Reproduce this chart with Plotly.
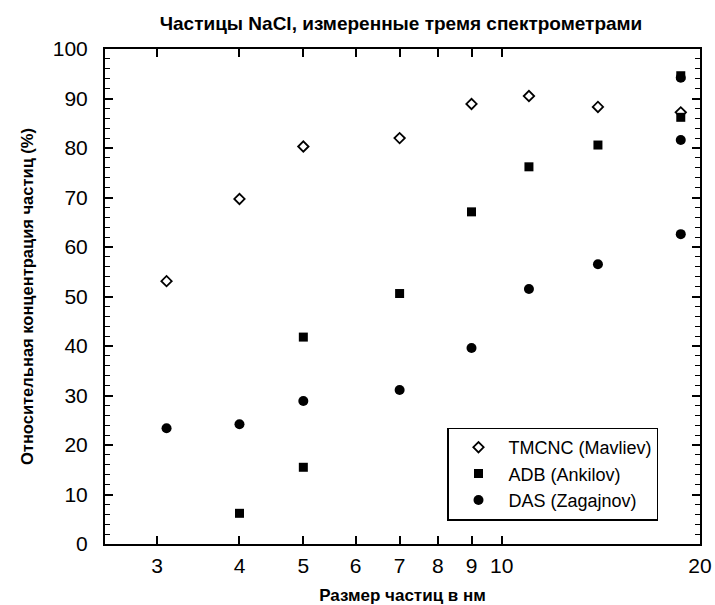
import plotly.graph_objects as go
import math

# Data
tmcnc_x = [3.1, 4.0, 5.0, 7.0, 9.0, 11.0, 14.0, 18.7]
tmcnc_y = [53.1, 69.7, 80.3, 82.0, 88.9, 90.5, 88.3, 87.2]

adb_x = [4.0, 5.0, 5.0, 7.0, 9.0, 11.0, 14.0, 18.7, 18.7]
adb_y = [6.2, 15.5, 41.8, 50.6, 67.1, 76.2, 80.6, 94.6, 86.2]

das_x = [3.1, 4.0, 5.0, 7.0, 9.0, 11.0, 14.0, 18.7, 18.7, 18.7]
das_y = [23.4, 24.2, 28.9, 31.1, 39.6, 51.5, 56.5, 94.2, 81.6, 62.6]

x_ticks = [3, 4, 5, 6, 7, 8, 9, 10, 20]
x_tick_text = ["3", "4", "5", "6", "7", "8", "9", "10", "20"]

title_text = "Частицы NaCl, измеренные тремя спектрометрами"
x_title = "Размер частиц в нм"
y_title = "Относительная концентрация частиц (%)"
names = ["TMCNC (Mavliev)", "ADB (Ankilov)", "DAS (Zagajnov)"]

FONT = "Arial, Liberation Sans, sans-serif"

fig = go.Figure()
fig.add_trace(go.Scatter(
    x=adb_x, y=adb_y, mode="markers", name=names[1],
    marker=dict(symbol="square", size=9, color="black", line=dict(width=0)),
    legendrank=2,
))
fig.add_trace(go.Scatter(
    x=das_x, y=das_y, mode="markers", name=names[2],
    marker=dict(symbol="circle", size=10, color="black", line=dict(width=0)),
    legendrank=3,
))
fig.add_trace(go.Scatter(
    x=tmcnc_x, y=tmcnc_y, mode="markers", name=names[0],
    marker=dict(symbol="diamond-open", size=8, color="black", line=dict(width=1.8, color="black")),
    legendrank=1,
))

fig.update_layout(
    width=715, height=605, autosize=False,
    margin=dict(l=105, r=15, t=49, b=61),
    paper_bgcolor="white", plot_bgcolor="white",
    font=dict(family=FONT, color="black", size=21),
    title=dict(text="<b>" + title_text + "</b>", font=dict(family=FONT, size=19, color="black"),
               x=401 / 715, xref="container", xanchor="center",
               y=1 - 23 / 605, yref="container", yanchor="middle"),
    showlegend=True,
    legend=dict(
        x=(447 - 105) / 595, xanchor="left",
        y=(544 - 474) / 495, yanchor="middle",
        bgcolor="white", bordercolor="black", borderwidth=1.5,
        font=dict(family=FONT, size=18, color="black"),
        itemwidth=50, traceorder="normal",
    ),
)

fig.update_xaxes(
    type="log",
    range=[math.log10(2.5), math.log10(20)],
    tickvals=x_ticks, ticktext=x_tick_text,
    ticks="inside", ticklen=8, tickwidth=1.5, tickcolor="black",
    showline=True, linecolor="black", linewidth=2, mirror="ticks",
    showgrid=False, zeroline=False, automargin=False,
    tickfont=dict(family=FONT, size=21, color="black"),
    ticklabelstandoff=2,
    title=dict(text="<b>" + x_title + "</b>", font=dict(family=FONT, size=17, color="black"), standoff=24),
)
fig.update_yaxes(
    range=[0, 100],
    tick0=0, dtick=10,
    ticks="inside", ticklen=8, tickwidth=1.5, tickcolor="black",
    minor=dict(dtick=2, ticks="inside", ticklen=5, tickwidth=1, tickcolor="black", showgrid=False),
    showline=True, linecolor="black", linewidth=2, mirror="ticks",
    showgrid=False, zeroline=False, automargin=False,
    tickfont=dict(family=FONT, size=21, color="black"),
    ticklabelstandoff=11,
    title=dict(text="<b>" + y_title + "</b>", font=dict(family=FONT, size=16.5, color="black"), standoff=15),
)

fig.write_html("out.html")
